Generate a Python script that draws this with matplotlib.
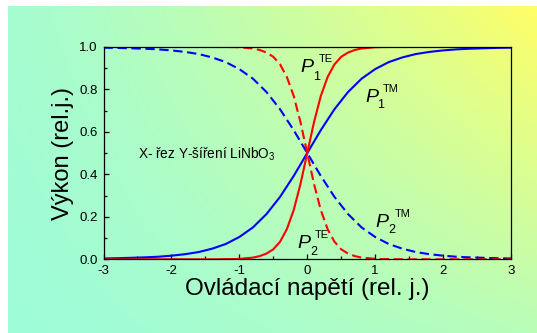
import matplotlib
matplotlib.use("Agg")
import matplotlib.pyplot as plt
import numpy as np

plt.rcParams['font.family'] = ['Liberation Sans', 'DejaVu Sans']
plt.rcParams['mathtext.fontset'] = 'custom'
plt.rcParams['mathtext.rm'] = 'Liberation Sans'
plt.rcParams['mathtext.it'] = 'Liberation Sans:italic'
plt.rcParams['axes.unicode_minus'] = False

# TE mode (red)
te_x = [-3.0, -2.0, -1.5, -1.4, -1.3, -1.2, -1.1, -1.0, -0.9, -0.8, -0.7, -0.6,
        -0.5, -0.4, -0.3, -0.2, -0.1, 0.0, 0.1, 0.2, 0.3, 0.4, 0.5, 0.6, 0.7,
        0.8, 0.9, 1.0, 1.1, 1.2, 1.3, 1.4, 1.5, 2.0, 3.0]
p1_te = [0.000, 0.000, 0.000, 0.000, 0.000, 0.001, 0.001, 0.002, 0.005, 0.008,
         0.015, 0.027, 0.047, 0.083, 0.142, 0.231, 0.354, 0.500, 0.646, 0.769,
         0.858, 0.917, 0.953, 0.973, 0.985, 0.992, 0.995, 0.998, 0.999, 0.999,
         1.000, 1.000, 1.000, 1.000, 1.000]
p2_te = [1.000, 1.000, 1.000, 1.000, 1.000, 0.999, 0.999, 0.998, 0.995, 0.992,
         0.985, 0.973, 0.953, 0.917, 0.858, 0.769, 0.646, 0.500, 0.354, 0.231,
         0.142, 0.083, 0.047, 0.027, 0.015, 0.008, 0.005, 0.002, 0.001, 0.001,
         0.000, 0.000, 0.000, 0.000, 0.000]

# TM mode (blue)
tm_x = [-3.0, -2.8, -2.6, -2.4, -2.2, -2.0, -1.8, -1.6, -1.4, -1.2, -1.0, -0.8,
        -0.6, -0.4, -0.2, 0.0, 0.2, 0.4, 0.6, 0.8, 1.0, 1.2, 1.4, 1.6, 1.8, 2.0,
        2.2, 2.4, 2.6, 2.8, 3.0]
p1_tm = [0.004, 0.005, 0.007, 0.009, 0.012, 0.017, 0.024, 0.034, 0.050, 0.072,
         0.105, 0.150, 0.213, 0.294, 0.392, 0.500, 0.608, 0.706, 0.787, 0.850,
         0.895, 0.928, 0.950, 0.966, 0.976, 0.983, 0.988, 0.991, 0.993, 0.995,
         0.996]
p2_tm = [0.996, 0.995, 0.993, 0.991, 0.988, 0.983, 0.976, 0.966, 0.950, 0.928,
         0.895, 0.850, 0.787, 0.706, 0.608, 0.500, 0.392, 0.294, 0.213, 0.150,
         0.105, 0.072, 0.050, 0.034, 0.024, 0.017, 0.012, 0.009, 0.007, 0.005,
         0.004]

fig = plt.figure(figsize=(5.37, 3.33), dpi=100)

# background gradient (aqua bottom-left -> yellow top-right)
bg = fig.add_axes([8 / 537, 0, 1 - 8 / 537, 1 - 6 / 333])
u, v = np.meshgrid(np.linspace(0, 1, 300), np.linspace(0, 1, 200))
t = 0.08 * v + 0.92 * u ** 1.3 * (0.3 + 0.7 * v)
c0 = np.array([0.62, 0.99, 0.85])
c1 = np.array([1.0, 1.0, 0.40])
img = c0 + (c1 - c0) * t[..., None]
bg.imshow(img, origin='lower', aspect='auto', extent=[0, 1, 0, 1])
bg.axis('off')

ax = fig.add_axes([103.5 / 537, 1 - 259.3 / 333, (511 - 103.5) / 537, (259.3 - 46.8) / 333])
ax.set_facecolor('none')

dash = (4.5, 2.2)
ax.plot(tm_x, p2_tm, color='blue', lw=1.5, dashes=dash)
ax.plot(te_x, p2_te, color='red', lw=1.5, dashes=dash)
ax.plot(tm_x, p1_tm, color='blue', lw=1.5)
ax.plot(te_x, p1_te, color='red', lw=1.5)

ax.set_xlim(-3, 3)
ax.set_ylim(0, 1)
ax.set_xticks([-3, -2, -1, 0, 1, 2, 3])
ax.set_xticks(np.arange(-2.5, 3, 1.0), minor=True)
ax.set_yticks([0.0, 0.2, 0.4, 0.6, 0.8, 1.0])
ax.set_yticks([0.1, 0.3, 0.5, 0.7, 0.9], minor=True)
ax.set_yticklabels(['0.0', '0.2', '0.4', '0.6', '0.8', '1.0'])
ax.tick_params(which='both', direction='in', labelsize=9.5, width=0.9)
ax.tick_params(which='major', length=3.5, pad=4)
ax.tick_params(which='minor', length=2)
for s in ax.spines.values():
    s.set_linewidth(0.9)

ax.set_xlabel('Ovládací napětí (rel. j.)', fontsize=17.5, labelpad=1)
ax.set_ylabel('Výkon (rel.j.)', fontsize=17, labelpad=4)

ax.text(-2.49, 0.475, 'X- řez Y-šíření LiNbO$_3$', fontsize=9.8, va='baseline')

# curve labels: P, subscript, superscript
labels = [
    ((-0.10, 0.881), (0.09, 0.844), (0.17, 0.928), '1', 'TE'),
    ((0.85, 0.740), (1.03, 0.712), (1.11, 0.787), '1', 'TM'),
    ((1.01, 0.152), (1.19, 0.124), (1.29, 0.199), '2', 'TM'),
    ((-0.14, 0.053), (0.05, 0.020), (0.11, 0.100), '2', 'TE'),
]
for p, sub, sup, s_sub, s_sup in labels:
    ax.text(p[0], p[1], 'P', fontsize=14, style='italic', va='baseline')
    ax.text(sub[0], sub[1], s_sub, fontsize=9, va='baseline')
    ax.text(sup[0], sup[1], s_sup, fontsize=8, va='baseline')

fig.savefig('out.png', dpi=100)
